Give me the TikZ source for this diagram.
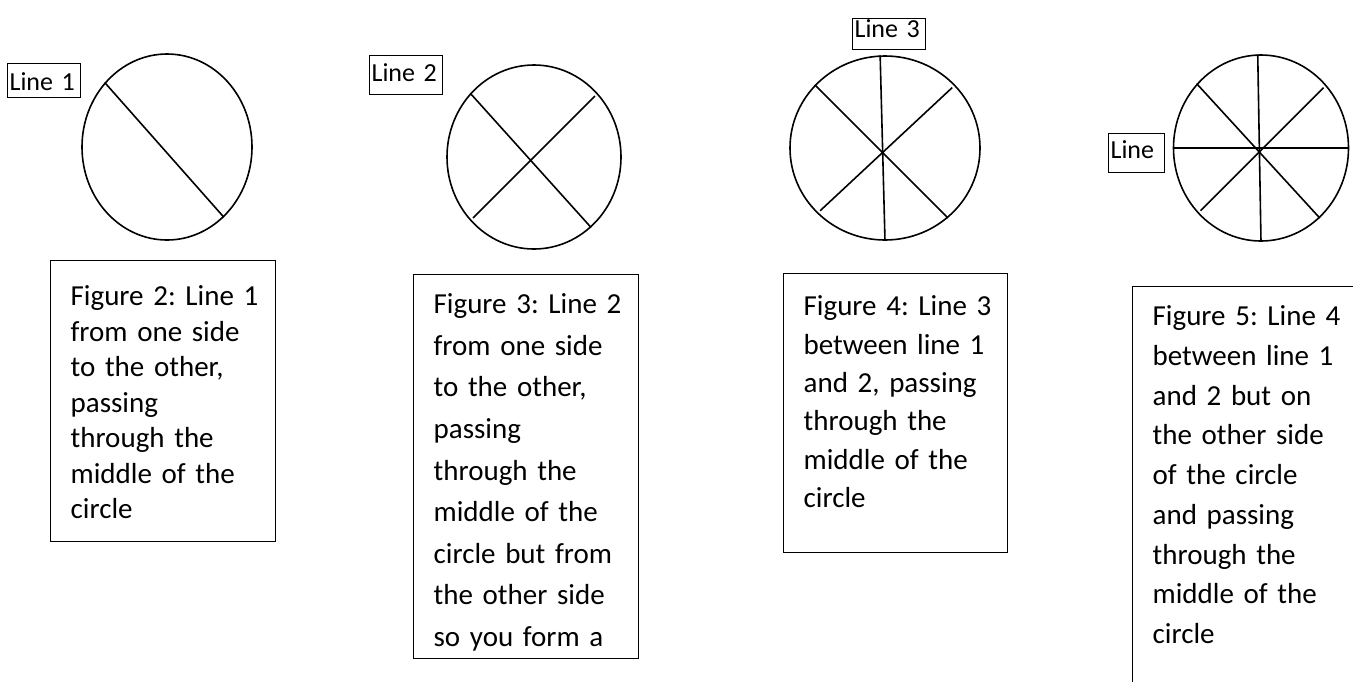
\documentclass[tikz,border=0pt]{standalone}
\usepackage{fontspec}
\setmainfont{Carlito}
\usepackage{tikz}
\usetikzlibrary{shapes.geometric}

\begin{document}
\begin{tikzpicture}[x=1pt, y=-1pt,
    disc/.style={ellipse, draw, line width=1.6pt, inner sep=0pt},
    spoke/.style={line width=1.6pt},
    shortspoke/.style={spoke, shorten <=4pt, shorten >=4pt},
    linelabel/.style={draw, line width=1.2pt, anchor=north west, inner xsep=2pt,
        inner ysep=0pt, align=left, font=\fontsize{26}{31}\selectfont},
    caption/.style={draw, line width=1.3pt, anchor=north west, inner xsep=10pt,
        inner ysep=0pt, align=left,
        execute at begin node={\frenchspacing\leftskip=10pt\relax}}]
    \useasboundingbox (0,0) rectangle (1353,681);
    \clip (0,0) rectangle (1353,681);

    % Figure 2: one line
    \node[linelabel, text width=69pt, text height=27pt, text depth=7pt] (lbl1) at (7,63) {Line 1};
    \node[disc, minimum width=170pt, minimum height=186pt] (circ1) at (167,147) {};
    \draw[spoke] (circ1.134) -- (circ1.-51);
    \node[caption, text width=205pt, text height=45pt, text depth=236pt,
        font=\fontsize{29}{35.5}\selectfont] (cap1) at (50,260)
        {Figure 2: Line 1\\from one side\\to the other,\\passing\\through the\\middle of the\\circle};

    % Figure 3: a cross
    \node[linelabel, text width=69pt, text height=26pt, text depth=13pt] (lbl2) at (369,55) {Line 2};
    \node[disc, minimum width=174pt, minimum height=184pt] (circ2) at (534,157) {};
    \draw[spoke] (circ2.135) -- (circ2.-51);
    \draw[shortspoke] (circ2.225) -- (circ2.45);
    \node[caption, text width=205pt, text height=39pt, text depth=345pt,
        font=\fontsize{29}{41.6}\selectfont] (cap2) at (413,274)
        {Figure 3: Line 2\\from one side\\to the other,\\passing\\through the\\middle of the\\circle but from\\the other side\\so you form a};

    % Figure 4: three lines
    \node[linelabel, text width=69pt, text height=19pt, text depth=12pt] (lbl3) at (852,18) {Line 3};
    \node[disc, minimum width=190pt, minimum height=184pt] (circ3) at (885,148) {};
    \draw[spoke] (circ3.93) -- (circ3.-90);
    \draw[spoke] (circ3.138) -- (circ3.-48);
    \draw[shortspoke] (circ3.224) -- (circ3.42);
    \node[caption, text width=204pt, text height=42pt, text depth=237pt,
        font=\fontsize{29}{38.4}\selectfont] (cap3) at (783,273)
        {Figure 4: Line 3\\between line 1\\and 2, passing\\through the\\middle of the\\circle};

    % Figure 5: four lines
    \node[linelabel, text width=52pt, text height=25pt, text depth=14pt] (lbl4) at (1108,133) {Line};
    \node[disc, minimum width=175pt, minimum height=186pt] (circ4) at (1261,148) {};
    \draw[spoke] (circ4.92.5) -- (circ4.-90);
    \draw[spoke] (circ4.180) -- (circ4.0);
    \draw[spoke] (circ4.135.5) -- (circ4.-50);
    \draw[shortspoke] (circ4.226) -- (circ4.44.5);
    \node[caption, text width=205pt, text height=39pt, text depth=420pt,
        font=\fontsize{29}{39.75}\selectfont] (cap4) at (1132,286)
        {Figure 5: Line 4\\between line 1\\and 2 but on\\the other side\\of the circle\\and passing\\through the\\middle of the\\circle};
\end{tikzpicture}
\end{document}
